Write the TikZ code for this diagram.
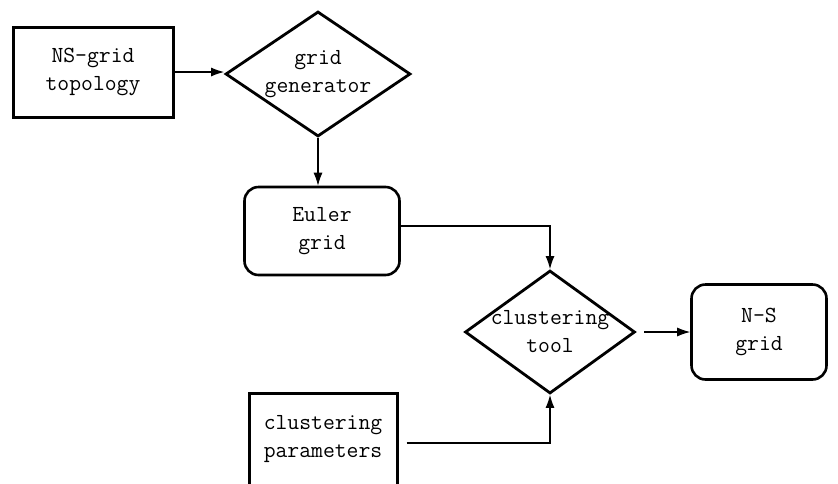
\documentclass[tikz,border=0pt]{standalone}
\usepackage{tikz}
\usetikzlibrary{shapes.geometric,arrows.meta}

\begin{document}
\begin{tikzpicture}[x=1pt,y=-1pt,line width=1.1pt,
  every node/.style={font=\ttfamily\fontsize{23pt}{28pt}\selectfont,align=center,inner sep=0pt},
  sqbox/.style={draw,line width=3pt,rectangle},
  rndbox/.style={draw,line width=2.6pt,rectangle,rounded corners=14pt},
  decide/.style={draw,line width=2.8pt,diamond,aspect=1.6},
  flow/.style={-{Latex[length=13pt,width=9pt]}}]
  \useasboundingbox (0,0) rectangle (838,483);
  \node[sqbox,minimum width=160pt,minimum height=90pt]  (topo)   at (93,72)   {NS-grid\\topology};
  \node[decide,inner xsep=-8pt,minimum width=185pt,minimum height=125pt] (gen) at (318,74) {grid\\generator};
  \node[rndbox,minimum width=155pt,minimum height=88pt] (euler)  at (322,231) {Euler\\grid};
  \node[decide,inner xsep=-18pt,minimum width=170pt,minimum height=123pt] (clus) at (550,332) {clustering\\tool};
  \node[rndbox,minimum width=135pt,minimum height=95pt] (nsgrid) at (759,332) {N-S\\grid};
  \node[sqbox,minimum width=148pt,minimum height=92pt]  (params) at (323,439) {clustering\\parameters};
  \draw[flow] (topo.east) -- (topo.east -| gen.west);
  \draw[flow] (gen.south) -- (gen.south |- euler.north);
  \draw[flow] ([yshift=5pt]euler.east) -| (clus.north);
  \draw[flow,shorten <=8pt] (clus.east) -- (nsgrid.west);
  \draw[flow,shorten <=8pt] ([yshift=-4pt]params.east) -| (clus.south);
\end{tikzpicture}
\end{document}
